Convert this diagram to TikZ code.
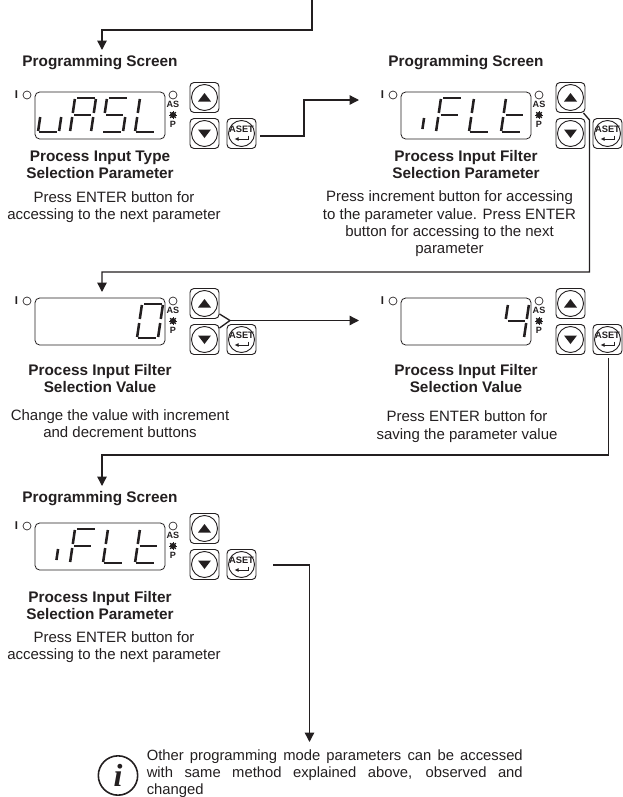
\documentclass[tikz,border=0pt]{standalone}
\usepackage{fontspec}
\setmainfont{Liberation Sans}
\newfontfamily\infofont{Liberation Serif}
\usetikzlibrary{arrows.meta}
\definecolor{ink}{HTML}{231F20}
\newcommand{\szB}{\fontsize{11.5}{12.75}\selectfont\bfseries}
\newcommand{\szR}{\fontsize{11.25}{13}\selectfont}
\tikzset{
  conn/.style={draw=ink,line width=1pt,line join=miter},
  arr/.style={conn,-{Triangle[length=7pt,width=7pt]}},
  btnbox/.style={draw=ink,line width=.7pt,rounded corners=3pt,minimum width=21.75pt,minimum height=22.5pt,inner sep=0pt},
  btnring/.style={draw=ink,line width=.7pt,circle,minimum size=19.5pt,inner sep=0pt},
  disp/.style={draw=ink,line width=.6pt,rounded corners=3.5pt,minimum width=97.5pt,minimum height=35.25pt,inner sep=0pt},
  seg/.style={draw=ink,line width=1.9pt,line cap=butt},
  led/.style={draw=ink,line width=.5pt,circle,minimum size=6pt,inner sep=0pt},
  ttl/.style={align=center,text=ink,inner sep=0pt,font=\szB},
  bod/.style={align=center,text=ink,inner sep=0pt,font=\szR},
  tiny/.style={text=ink,inner sep=0pt,font=\fontsize{6.8}{7}\selectfont\bfseries},
}
% seven-segment strokes; cell 21 wide, 34 tall, y up
\newcommand{\sga}{\draw[seg] (2,34)--(20,34);}
\newcommand{\sgb}{\draw[seg] (21,33)--(21,19);}
\newcommand{\sgc}{\draw[seg] (21,15)--(21,1);}
\newcommand{\sgd}{\draw[seg] (1,0)--(19,0);}
\newcommand{\sge}{\draw[seg] (0,15)--(0,1);}
\newcommand{\sgf}{\draw[seg] (0,33)--(0,19);}
\newcommand{\sgg}{\draw[seg] (2,17)--(19,17);}
\newcommand{\sgi}{\draw[seg] (18,14)--(18,3);}
\newcommand{\cell}[2]{\begin{scope}[shift={(#1,132)},x=.75pt,y=.75pt,xslant=.147]#2\end{scope}}
% #1 id, #2 dx, #3 dy, #4 digits
\newcommand{\panel}[4]{%
\begin{scope}[shift={(#2,#3)}]
  \node[disp] (#1-disp) at (100,115.5) {};
  \node[led] (#1-li) at (27,95) {};
  \node[tiny,font=\fontsize{8.5}{9}\selectfont\bfseries] (#1-i) at (16.5,95) {I};
  \node[led] (#1-la) at (173,95) {};
  \node[tiny] (#1-as) at (173,104) {AS};
  \fill[ink] (173,115) circle (2.3pt);
  \foreach \a in {0,45,...,315}{\draw[ink,line width=.7pt] (173,115) -- ++(\a:3.1pt);}
  \node[tiny] (#1-p) at (173,124.5) {P};
  \node[btnbox] (#1-up) at (204.5,97.5) {};
  \node[btnring] at (204.5,97.5) {};
  \fill[ink] (198,101.5) -- (211,101.5) -- (204.5,93) -- cycle;
  \node[btnbox] (#1-dn) at (204.5,133.5) {};
  \node[btnring] at (204.5,133.5) {};
  \fill[ink] (198,129.5) -- (211,129.5) -- (204.5,138) -- cycle;
  \node[btnbox] (#1-set) at (241.5,133.5) {};
  \node[btnring] at (241.5,133.5) {};
  \node[tiny,font=\fontsize{7}{7}\selectfont\bfseries] (#1-aset) at (241.5,129) {ASET};
  \draw[ink,line width=.7pt,-{Latex[length=3pt,width=3pt]}] (248.5,135.5) -- (248.5,139) -- (234.5,139);
  #4
\end{scope}}
\begin{document}
\begin{tikzpicture}[x=.75pt,y=-.75pt]
\useasboundingbox (0,0) rectangle (622,797);
\panel{a}{0}{0}{\cell{38}{\sge\sgd\sgc}\cell{70}{\sga\sgb\sgc\sge\sgf\sgg}\cell{102}{\sga\sgf\sgg\sgc\sgd}\cell{135}{\sgf\sge\sgd}}
\panel{b}{366}{0}{\cell{38}{\sgi}\cell{70}{\sga\sge\sgf\sgg}\cell{103}{\sgf\sge\sgd}\cell{135}{\sgf\sge\sgd\sgg}}
\panel{c}{0}{206}{\cell{137}{\sga\sgb\sgc\sgd\sge\sgf}}
\panel{d}{366}{206}{\cell{137}{\sgf\sgg\sgb\sgc}}
\panel{e}{0}{431}{\cell{38}{\sgi}\cell{70}{\sga\sge\sgf\sgg}\cell{103}{\sgf\sge\sgd}\cell{135}{\sgf\sge\sgd\sgg}}
% texts
\node[ttl] (pa) at (100,63) {Programming Screen};
\node[ttl] (pb) at (466,63) {Programming Screen};
\node[ttl] (pe) at (100,499) {Programming Screen};
\node[ttl] (ta) at (100,164.5) {Process Input Type\\Selection Parameter};
\node[ttl] (tb) at (466,164.5) {Process Input Filter\\Selection Parameter};
\node[ttl] (tc) at (100,379) {Process Input Filter\\Selection Value};
\node[ttl] (td) at (466,379) {Process Input Filter\\Selection Value};
\node[ttl] (te) at (100,606) {Process Input Filter\\Selection Parameter};
\node[bod] (ba) at (114,207) {Press ENTER button for\\accessing to the next parameter};
\node[bod] (bb) at (449.5,224) {Press increment button for accessing\\to the parameter value. Press ENTER\\button for accessing to the next\\parameter};
\node[bod] (bc) at (120,423.5) {Change the value with increment\\and decrement buttons};
\node[bod] (bd) at (467,426.5) {Press ENTER button for\\saving the parameter value};
\node[bod] (be) at (114,647) {Press ENTER button for\\accessing to the next parameter};
\node[draw=ink,line width=1.2pt,circle,minimum size=29.5pt,inner sep=0pt] (inf) at (118,775.5) {};
\node[text=ink,inner sep=0pt,font=\infofont\fontsize{24}{24}\selectfont\bfseries\itshape] (infi) at (118,775) {i};
\node[text=ink,inner sep=0pt,anchor=north west,text width=282pt,align=justify,font=\fontsize{11.1}{13.1}\selectfont] (note) at (146.5,749) {Other programming mode parameters can be accessed\linebreak with same method explained above, observed and\linebreak changed};
% connectors
\coordinate (s0) at (312,0);
\coordinate (e1) at (102,50);
\draw[arr] (s0) -- (312,30) -- (102,30) -- (e1);
\coordinate (s2) at (260,136);
\coordinate (e2) at (359,100);
\draw[arr] (s2) -- (304,136) -- (304,100) -- (e2);
\coordinate (j3) at (589.5,120);
\coordinate (e3) at (102,292);
\draw[arr] ([shift={(-2,0)}]b-up.south east) -- (j3) -- (589.5,272) -- (102,272) -- (e3);
\coordinate (j4) at (230,320.5);
\coordinate (e4) at (359,320.5);
\draw[conn] ([shift={(0,-5)}]c-up.south east) -- (j4) -- ([shift={(0,4)}]c-dn.north east);
\draw[arr] (j4) -- (e4);
\coordinate (s5) at (608.7,358);
\coordinate (e5) at (102,486);
\draw[arr] (s5) -- (608.7,455) -- (102,455) -- (e5);
\coordinate (s6) at (273,565);
\coordinate (e6) at (309.5,742);
\draw[arr] (s6) -- (309.5,565) -- (e6);
\end{tikzpicture}
\end{document}
